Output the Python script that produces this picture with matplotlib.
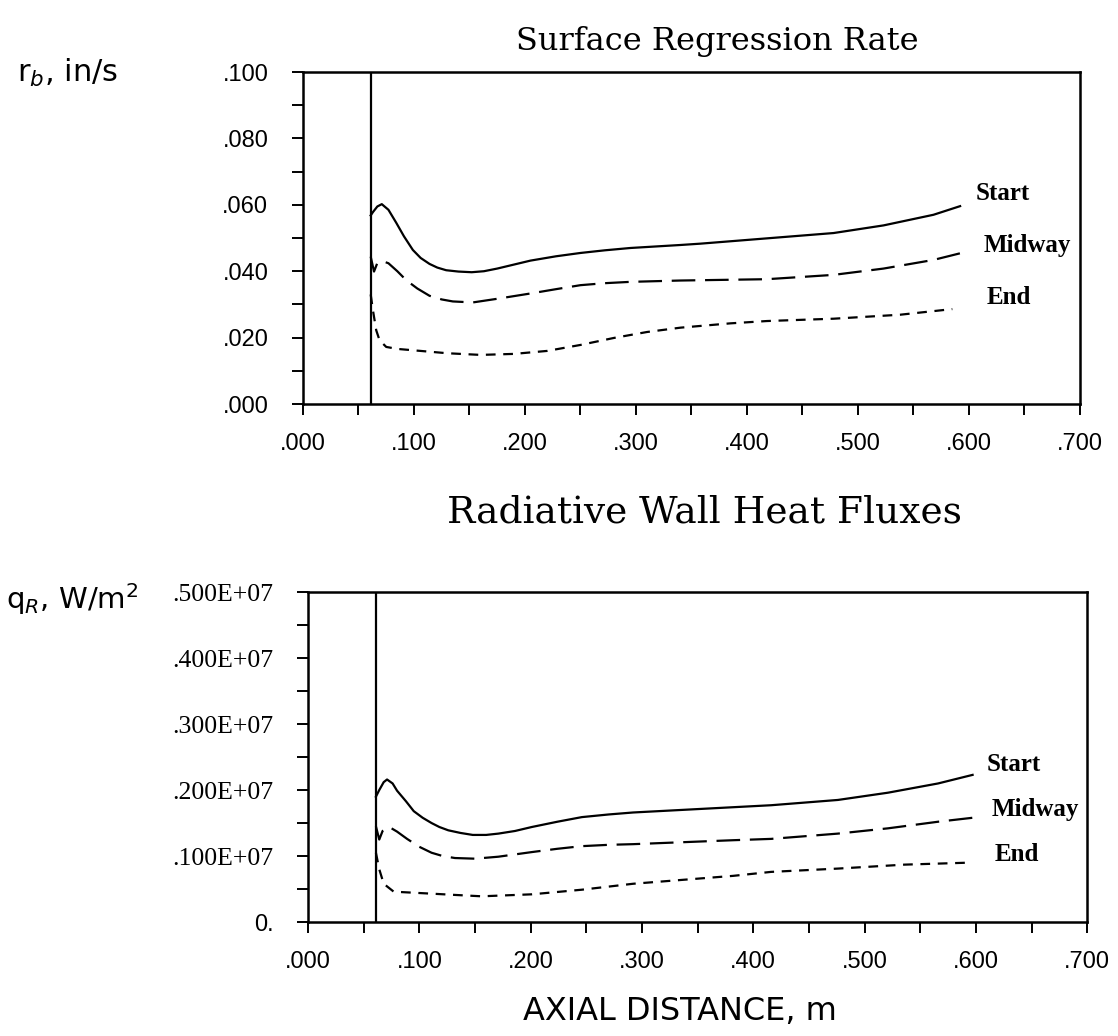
import matplotlib
matplotlib.use('Agg')
import matplotlib.pyplot as plt
import numpy as np

plt.rcParams['lines.scale_dashes'] = False

# axial stations (m) and burn rate (in/s) at three burn times
grain_start = 0.061

rb_start_x = [0.061, 0.063, 0.067, 0.071, 0.077, 0.084, 0.091, 0.099, 0.106, 0.114, 0.121, 0.129,
              0.140, 0.152, 0.163, 0.175, 0.190, 0.205, 0.228, 0.250, 0.272, 0.295, 0.340, 0.358,
              0.418, 0.478, 0.523, 0.568, 0.592]
rb_start_y = [0.0568, 0.0578, 0.0595, 0.0602, 0.0585, 0.0546, 0.0505, 0.0464, 0.0440, 0.0422, 0.0411, 0.0403,
              0.0399, 0.0397, 0.0400, 0.0408, 0.0420, 0.0432, 0.0445, 0.0455, 0.0463, 0.0470, 0.0479, 0.0483,
              0.0499, 0.0515, 0.0538, 0.0570, 0.0596]

rb_mid_x = [0.061, 0.064, 0.067, 0.072, 0.077, 0.085, 0.093, 0.103, 0.114, 0.125, 0.135, 0.153,
            0.175, 0.205, 0.228, 0.250, 0.272, 0.295, 0.340, 0.418, 0.478, 0.523, 0.568, 0.592]
rb_mid_y = [0.0444, 0.0399, 0.0425, 0.0430, 0.0424, 0.0400, 0.0373, 0.0348, 0.0326, 0.0315, 0.0309, 0.0306,
            0.0317, 0.0333, 0.0346, 0.0358, 0.0364, 0.0368, 0.0372, 0.0376, 0.0389, 0.0408, 0.0434, 0.0454]

rb_end_x = [0.061, 0.063, 0.066, 0.069, 0.075, 0.085, 0.099, 0.130, 0.160, 0.190, 0.220, 0.250,
            0.280, 0.310, 0.340, 0.385, 0.418, 0.478, 0.538, 0.585]
rb_end_y = [0.0330, 0.0283, 0.0222, 0.0192, 0.0172, 0.0166, 0.0162, 0.0153, 0.0148, 0.0151, 0.0160, 0.0178,
            0.0199, 0.0217, 0.0230, 0.0243, 0.0250, 0.0257, 0.0269, 0.0286]

# radiative wall heat flux (W/m^2)
qr_start_x = [0.061, 0.064, 0.068, 0.071, 0.076, 0.080, 0.088, 0.095, 0.103, 0.111, 0.118, 0.126,
              0.137, 0.148, 0.160, 0.171, 0.186, 0.201, 0.224, 0.246, 0.270, 0.292, 0.337, 0.382,
              0.416, 0.476, 0.521, 0.566, 0.597]
qr_start_y = [1.90e6, 2.00e6, 2.12e6, 2.16e6, 2.10e6, 1.99e6, 1.83e6, 1.68e6, 1.58e6, 1.50e6, 1.44e6, 1.39e6,
              1.35e6, 1.32e6, 1.32e6, 1.34e6, 1.38e6, 1.44e6, 1.52e6, 1.59e6, 1.63e6, 1.66e6, 1.70e6, 1.74e6,
              1.77e6, 1.85e6, 1.96e6, 2.10e6, 2.23e6]

qr_mid_x = [0.061, 0.064, 0.067, 0.073, 0.080, 0.089, 0.100, 0.111, 0.121, 0.132, 0.150, 0.171,
            0.201, 0.224, 0.246, 0.270, 0.292, 0.337, 0.382, 0.416, 0.476, 0.521, 0.566, 0.597]
qr_mid_y = [1.45e6, 1.25e6, 1.38e6, 1.44e6, 1.37e6, 1.26e6, 1.14e6, 1.05e6, 1.00e6, 0.97e6, 0.96e6, 0.99e6,
            1.06e6, 1.11e6, 1.15e6, 1.17e6, 1.18e6, 1.21e6, 1.24e6, 1.26e6, 1.34e6, 1.42e6, 1.52e6, 1.58e6]

qr_end_x = [0.061, 0.064, 0.068, 0.077, 0.111, 0.133, 0.156, 0.201, 0.246, 0.292, 0.337, 0.382,
            0.416, 0.476, 0.536, 0.594]
qr_end_y = [1.05e6, 0.80e6, 0.58e6, 0.46e6, 0.43e6, 0.41e6, 0.39e6, 0.42e6, 0.49e6, 0.58e6, 0.64e6, 0.70e6,
            0.76e6, 0.81e6, 0.87e6, 0.90e6]

series_names = ['Start', 'Midway', 'End']
rb_label_pos = [(0.606, 0.0635), (0.613, 0.0477), (0.616, 0.0322)]
qr_label_pos = [(0.610, 2.39e6), (0.614, 1.70e6), (0.617, 1.02e6)]

x_ticks = [0.0, 0.1, 0.2, 0.3, 0.4, 0.5, 0.6, 0.7]
x_ticklabels = ['.000', '.100', '.200', '.300', '.400', '.500', '.600', '.700']
rb_ticks = [0.0, 0.02, 0.04, 0.06, 0.08, 0.10]
rb_ticklabels = ['.000', '.020', '.040', '.060', '.080', '.100']
qr_ticks = [0.0, 1e6, 2e6, 3e6, 4e6, 5e6]
qr_ticklabels = ['0.', '.100E+07', '.200E+07', '.300E+07', '.400E+07', '.500E+07']

styles = [dict(linestyle='-'),
          dict(linestyle=(0, (17, 7))),
          dict(linestyle=(0, (7, 5.5)))]

fig = plt.figure(figsize=(11.18, 10.36), dpi=100)
ax1 = fig.add_axes([0.271, 0.610, 0.695, 0.3205])
ax2 = fig.add_axes([0.2755, 0.110, 0.697, 0.3185])


def setup(ax, yticks, yticklabels, ymax, minor_step, yfont, ysize):
    ax.set_xlim(0, 0.7)
    ax.set_ylim(0, ymax)
    for s in ax.spines.values():
        s.set_linewidth(1.8)
    ax.set_xticks(x_ticks)
    ax.set_xticklabels(x_ticklabels, family='Liberation Sans', fontsize=17)
    ax.set_xticks(np.arange(0.05, 0.7, 0.1), minor=True)
    ax.set_yticks(yticks)
    ax.set_yticklabels(yticklabels, family=yfont, fontsize=ysize)
    ax.set_yticks(np.arange(minor_step, ymax, 2 * minor_step), minor=True)
    ax.tick_params(which='both', direction='out', length=8, width=1.4, top=False, right=False)
    ax.tick_params(axis='y', which='major', pad=17)
    ax.tick_params(axis='x', which='major', pad=13)
    ax.axvline(grain_start, color='black', lw=1.6)


setup(ax1, rb_ticks, rb_ticklabels, 0.1, 0.01, 'Liberation Sans', 17)
setup(ax2, qr_ticks, qr_ticklabels, 5e6, 0.5e6, 'Liberation Serif', 18.5)
ax2.get_yticklabels()[0].set_family('Liberation Sans')
ax2.get_yticklabels()[0].set_fontsize(17)

for (x, y), st in zip([(rb_start_x, rb_start_y), (rb_mid_x, rb_mid_y), (rb_end_x, rb_end_y)], styles):
    ax1.plot(x, y, color='black', lw=1.6, **st)
for (x, y), st in zip([(qr_start_x, qr_start_y), (qr_mid_x, qr_mid_y), (qr_end_x, qr_end_y)], styles):
    ax2.plot(x, y, color='black', lw=1.6, **st)

for name, (lx, ly) in zip(series_names, rb_label_pos):
    ax1.text(lx, ly, name, family='Liberation Serif', fontsize=18, fontweight='semibold',
             va='center', ha='left')
for name, (lx, ly) in zip(series_names, qr_label_pos):
    ax2.text(lx, ly, name, family='Liberation Serif', fontsize=18, fontweight='semibold',
             va='center', ha='left')

fig.text(0.642, 0.952, 'Surface Regression Rate', family='DejaVu Serif', fontsize=23,
         ha='center', va='baseline')
fig.text(0.630, 0.496, 'Radiative Wall Heat Fluxes', family='DejaVu Serif', fontsize=27,
         ha='center', va='baseline')

fig.text(0.015, 0.930, r'r$_b$, in/s', family='DejaVu Sans', fontsize=22, va='center', ha='left')
fig.text(0.005, 0.422, r'q$_R$, W/m$^2$', family='DejaVu Sans', fontsize=21, va='center', ha='left')
fig.text(0.608, 0.024, 'AXIAL DISTANCE, m', family='DejaVu Sans', fontsize=23, va='center', ha='center')

fig.savefig('out.png', dpi=100, facecolor='white')
